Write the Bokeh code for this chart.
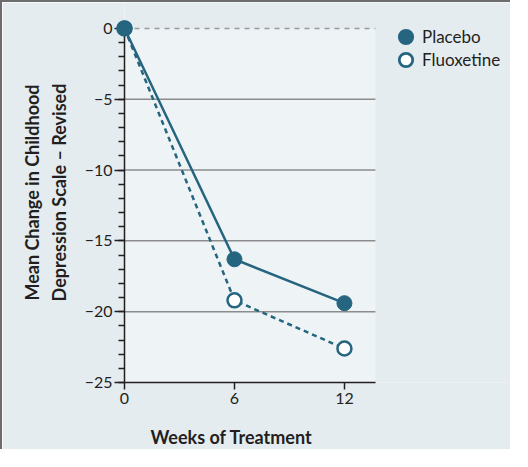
from bokeh.plotting import figure
from bokeh.models import (FixedTicker, Legend, LegendItem, Title, Range1d,
                          ColumnDataSource, CustomJSTickFormatter, BoxAnnotation)
from bokeh.embed import file_html
from bokeh.resources import INLINE

# ---- data ----
weeks = [0, 6, 12]
placebo = [0, -16.3, -19.4]
fluoxetine = [0, -19.2, -22.6]
series_names = ["Placebo", "Fluoxetine"]
y_ticks = [-25, -20, -15, -10, -5, 0]
y_minor = list(range(-25, 1))
x_ticks = [0, 6, 12]
grid_values = [-20, -15, -10, -5]
zero_value = [0]
y_label = "Mean Change in Childhood\nDepression Scale \u2013 Revised"
x_label = "Weeks of Treatment"

# ---- layout / style ----
Y_MIN, Y_MAX = -25, 0          # plotted y span
X_MIN, X_END = 0, 13.69        # plotted x span
TEAL = "#25657f"
TEXT = "#231f20"
FONT = "Lato"
OUTER = "#e5ecf0"
INNER = "#eef3f6"

p = figure(width=510, height=449, output_backend="svg", toolbar_location=None,
           x_range=Range1d(X_MIN, 21.17), y_range=Range1d(Y_MIN, 1.83),
           min_border_left=122, min_border_right=0,
           min_border_top=0, min_border_bottom=67,
           background_fill_color=OUTER, border_fill_color=OUTER,
           styles={"border-top": "2px solid #6d6d6d", "border-left": "2px solid #6d6d6d"})
p.outline_line_color = None
p.xgrid.visible = False
p.ygrid.visible = False

# lighter plotting area
p.add_layout(BoxAnnotation(left=X_MIN, right=X_END, bottom=Y_MIN, top=Y_MAX,
                           fill_color=INNER, fill_alpha=1, line_alpha=0,
                           level="underlay"))

# horizontal reference lines
gsrc = ColumnDataSource(dict(y=grid_values))
p.segment(x0=X_MIN, x1=X_END, y0="y", y1="y", source=gsrc,
          line_color="#8c8c8c", line_width=1.5)
zsrc = ColumnDataSource(dict(y=zero_value))
p.segment(x0=X_MIN, x1=X_END, y0="y", y1="y", source=zsrc,
          line_color="#999999", line_width=1.5, line_dash="5 5")

# y axis
ya = p.yaxis[0]
ya.ticker = FixedTicker(ticks=y_ticks, minor_ticks=y_minor)
ya.formatter = CustomJSTickFormatter(code="return tick < 0 ? '\u2212' + (-tick) : String(tick)")
ya.bounds = (Y_MIN, Y_MAX)
ya.major_tick_out = 10
ya.major_tick_in = 0
ya.minor_tick_out = 6
ya.minor_tick_in = 0
ya.major_tick_line_color = TEXT
ya.minor_tick_line_color = TEXT
ya.major_tick_line_width = 1.5
ya.minor_tick_line_width = 1.5
ya.axis_line_color = TEXT
ya.axis_line_width = 1.5
ya.major_label_text_font = FONT
ya.major_label_text_font_size = "16px"
ya.major_label_text_color = TEXT
ya.major_label_standoff = 2
ya.axis_label = y_label
ya.axis_label_text_font = FONT
ya.axis_label_text_font_style = "bold"
ya.axis_label_text_font_size = "18px"
ya.axis_label_text_color = TEXT
ya.axis_label_text_line_height = 1.2
ya.axis_label_standoff = 12

# x axis
xa = p.xaxis[0]
xa.ticker = FixedTicker(ticks=x_ticks, minor_ticks=[])
xa.bounds = (X_MIN, X_END)
xa.major_tick_out = 7
xa.major_tick_in = 0
xa.minor_tick_out = 0
xa.major_tick_line_color = TEXT
xa.major_tick_line_width = 1.5
xa.axis_line_color = TEXT
xa.axis_line_width = 1.5
xa.major_label_text_font = FONT
xa.major_label_text_font_size = "16px"
xa.major_label_text_color = TEXT
xa.major_label_standoff = 3

src = ColumnDataSource(dict(weeks=weeks, placebo=placebo, fluoxetine=fluoxetine))

p.line("weeks", "fluoxetine", source=src, line_color=TEAL, line_width=2.5,
       line_dash="5 4")
p.line("weeks", "placebo", source=src, line_color=TEAL, line_width=2.5)
p.scatter("weeks", "fluoxetine", source=src, size=14, marker="circle",
          fill_color="white", line_color=TEAL, line_width=2.5, level="overlay")
p.scatter("weeks", "placebo", source=src, size=15, marker="circle",
          fill_color=TEAL, line_color=TEAL, line_width=1, level="overlay")

# legend swatches (hidden renderers used only for the legend glyphs)
lg_disc = p.scatter("weeks", "placebo", source=src, marker="circle",
                    fill_color=TEAL, line_color=TEAL, line_width=7, visible=False)
lg_hole = p.scatter("weeks", "fluoxetine", source=src, marker="circle",
                    fill_color="white", line_color="white", line_width=1.5,
                    visible=False)

legend = Legend(items=[LegendItem(label=series_names[0], renderers=[lg_disc]),
                       LegendItem(label=series_names[1], renderers=[lg_disc, lg_hole])],
                location=(270, 311), orientation="vertical",
                glyph_width=23, glyph_height=23, spacing=0, label_standoff=5,
                padding=0, margin=0, background_fill_alpha=0, border_line_alpha=0,
                label_text_font=FONT, label_text_font_size="17px",
                label_text_color=TEXT)
p.add_layout(legend)

# small blank band between the tick labels and the x title
gap = Title(text=" ", standoff=0, text_font_size="10px", text_color=OUTER)
p.add_layout(gap, "below")

xt = Title(text=x_label, align="left", offset=26, standoff=8,
           text_font=FONT, text_font_style="bold", text_font_size="18px",
           text_color=TEXT)
p.add_layout(xt, "below")

open("out.html", "w").write(file_html(p, INLINE))
